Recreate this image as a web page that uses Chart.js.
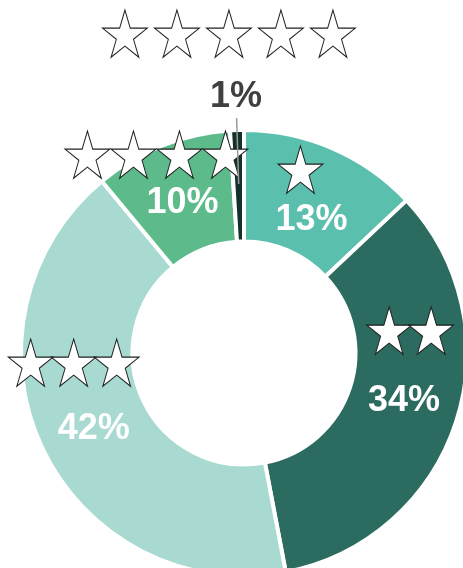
<!DOCTYPE html>
<html>
<head>
<meta charset="utf-8">
<script src="https://cdn.jsdelivr.net/npm/chart.js@4/dist/chart.umd.min.js"></script>
<style>
  html, body { margin: 0; padding: 0; background: #fff; overflow: hidden; }
  #wrap { position: absolute; left: 0; top: 0; width: 490px; height: 600px; }
</style>
</head>
<body>
<div id="wrap"><canvas id="ratings" width="490" height="600"></canvas></div>
<script>
// star ratings and their share of all reviews (%)
const ratings = ['★', '★★', '★★★', '★★★★', '★★★★★'];
const shares = [13, 34, 42, 10, 1];
const sliceColors = ['#5bbfae', '#2c6b5f', '#a8dad2', '#5dbb8b', '#13302a'];

// label nudges relative to the slice middle: [pctDx, pctDy, starDx, starDy, starPitch]
const nudges = [
  [1, 20, -10, -28, 44],
  [1, -5, 7, -72, 42],
  [1, 4, -19, -59, 43],
  [0, 5, -26, -41, 46],
  [0, 0, -7, -60, 52]
];

const starFont = 'DejaVu Sans';
const pctFont = 'bold 36px "Liberation Sans", Arial, sans-serif';

function drawStars(ctx, text, cx, cy, pitch) {
  // scale the glyph so one star is about 45px tall
  ctx.font = '100px "' + starFont + '"';
  const m = ctx.measureText('★');
  const h = m.actualBoundingBoxAscent + m.actualBoundingBoxDescent;
  const size = 100 * 48 / h;
  ctx.font = size + 'px "' + starFont + '"';
  const mm = ctx.measureText('★');
  const mid = (mm.actualBoundingBoxAscent - mm.actualBoundingBoxDescent) / 2;
  ctx.textAlign = 'center';
  ctx.textBaseline = 'alphabetic';
  ctx.fillStyle = '#ffffff';
  ctx.strokeStyle = '#1c1c1c';
  ctx.lineWidth = 1.1;
  ctx.lineJoin = 'miter';
  const n = text.length;
  for (let k = 0; k < n; k++) {
    const x = cx + (k - (n - 1) / 2) * pitch;
    ctx.save();
    ctx.translate(x, cy + mid + 15);
    ctx.scale(0.9, 1);
    ctx.fillText(text[k], 0, 0);
    ctx.strokeText(text[k], 0, 0);
    ctx.restore();
  }
}

const sliceLabels = {
  id: 'sliceLabels',
  afterDatasetsDraw(chart) {
    const ctx = chart.ctx;
    const arcs = chart.getDatasetMeta(0).data;
    ctx.save();
    arcs.forEach((arc, i) => {
      const p = arc.getProps(['x', 'y', 'startAngle', 'endAngle', 'innerRadius', 'outerRadius'], true);
      const a = (p.startAngle + p.endAngle) / 2;
      const nd = nudges[i];
      const outside = shares[i] < 5;
      let px, py;
      if (outside) {
        const r = p.outerRadius + 34;
        px = p.x + Math.cos(a) * r;
        py = p.y + Math.sin(a) * r;
        // leader line into the slice
        ctx.strokeStyle = '#9a9a9a';
        ctx.lineWidth = 1.5;
        ctx.beginPath();
        ctx.moveTo(p.x + Math.cos(a) * (p.outerRadius + 12), p.y + Math.sin(a) * (p.outerRadius + 12));
        ctx.lineTo(p.x + Math.cos(a) * (p.outerRadius - 54), p.y + Math.sin(a) * (p.outerRadius - 54));
        ctx.stroke();
      } else {
        const r = (p.innerRadius + p.outerRadius) / 2;
        px = p.x + Math.cos(a) * r + nd[0];
        py = p.y + Math.sin(a) * r + nd[1];
      }
      ctx.font = pctFont;
      ctx.textAlign = 'center';
      ctx.textBaseline = 'middle';
      ctx.fillStyle = outside ? '#404040' : '#ffffff';
      ctx.fillText(shares[i] + '%', px, py + 1);
      const bx = outside ? px : px - nd[0];
      const by = outside ? py : py - nd[1];
      drawStars(ctx, ratings[i], bx + nd[2], by + nd[3], nd[4]);
    });
    ctx.restore();
  }
};

new Chart(document.getElementById('ratings'), {
  type: 'doughnut',
  data: {
    labels: ratings,
    datasets: [{
      data: shares,
      backgroundColor: sliceColors,
      borderColor: '#ffffff',
      borderWidth: 4,
      hoverOffset: 0
    }]
  },
  options: {
    responsive: false,
    animation: false,
    cutout: '50%',
    layout: { padding: { left: 19, top: 128, right: 21, bottom: 22 } },
    plugins: {
      legend: { display: false },
      tooltip: { enabled: false }
    }
  },
  plugins: [sliceLabels]
});
</script>
</body>
</html>
